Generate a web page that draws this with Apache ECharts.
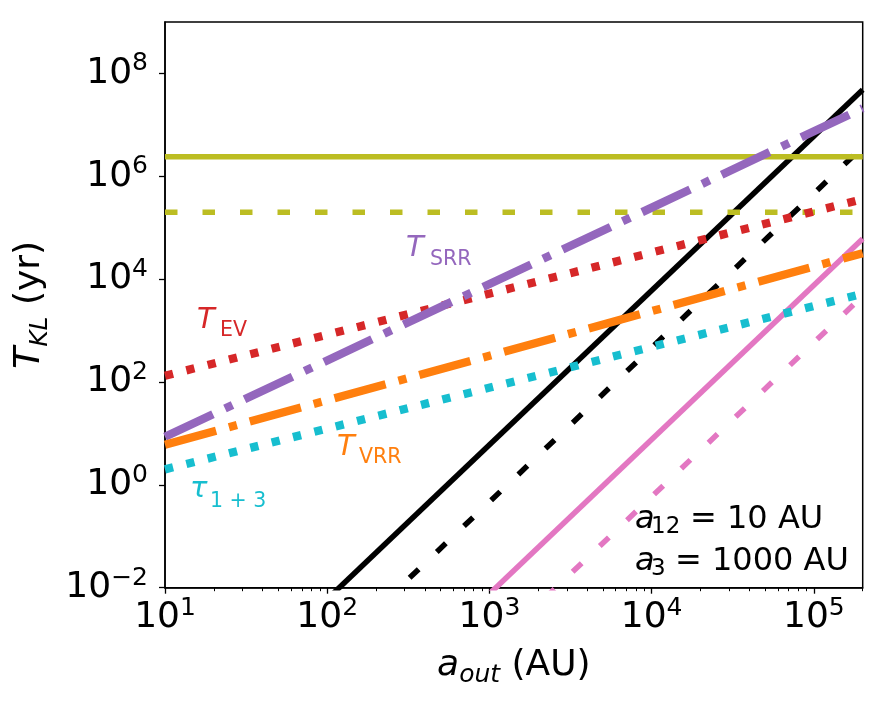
<!DOCTYPE html>
<html><head><meta charset="utf-8">
<script src="https://cdn.jsdelivr.net/npm/echarts@6/dist/echarts.min.js"></script>
<style>html,body{margin:0;padding:0;background:#fff}#c{width:885px;height:702px}</style>
</head><body><div id="c"></div>
<script>
// ---- data (real units, log-log plot) ----
const xRange = [10, 2e5];
const xEnds = [10, 2e5];                     // every curve is a straight line in log-log space
const xMajorTicks = [10, 100, 1000, 10000, 100000];
const xMinorTicks = [20,30,40,50,60,70,80,90,200,300,400,500,600,700,800,900,
  2000,3000,4000,5000,6000,7000,8000,9000,20000,30000,40000,50000,60000,70000,80000,90000,200000];
const yRange = [1e-2, 1e9];
const yTicks = [1e-2, 1, 1e2, 1e4, 1e6, 1e8];

const oliveSolid  = [2.4e6, 2.4e6];
const oliveDashed = [2.0e5, 2.0e5];
const blackSolid  = [6.0e-6, 4.8e7];
const blackDashed = [4.7e-7, 3.7e6];
const pinkSolid   = [7.6e-9, 6.1e4];
const pinkDashed  = [5.9e-10, 4.7e3];
const tEV         = [132, 3.6e5];
const tSRR        = [8.6, 2.1e7];
const tVRR        = [6.0, 3.2e4];
const tau13       = [2.0, 5.2e3];

// ---- helpers ----
const L = Math.log10;
const FONT = '"DejaVu Sans", sans-serif';
const exp = v => { const e = Math.round(v); return e < 0 ? '\u2212' + (-e) : String(e); };
const DASHED = [12.5, 25], DOTTED = [8.3, 13.7], DASHDOT = [53, 13.3, 8.3, 13.3];

function line(ys, color, width, type, extra) {
  return Object.assign({
    type: 'line', data: xEnds.map((x, i) => [L(x), L(ys[i])]),
    showSymbol: false, symbol: 'none', silent: true, animation: false, clip: true,
    lineStyle: { color, width, type, cap: 'butt', join: 'miter' }
  }, extra || {});
}

const tickRich = {
  b: { fontSize: 36, lineHeight: 44, fontFamily: FONT, color: '#000' },
  s: { fontSize: 25, lineHeight: 26, verticalAlign: 'top', fontFamily: FONT, color: '#000' }
};

function txt(text, x, y, size, italic, color) {
  return { type: 'text', x, y, silent: true,
    style: { text, font: (italic ? 'italic ' : '') + size + 'px ' + FONT, fill: color, align: 'left', verticalAlign: 'middle' } };
}

const chart = echarts.init(document.getElementById('c'), null, { renderer: 'canvas' });
chart.setOption({
  animation: false,
  backgroundColor: '#fff',
  grid: { left: 165, top: 22, width: 697.7, height: 565.7, show: true, borderColor: '#000', borderWidth: 1.5, backgroundColor: 'transparent' },
  xAxis: [{
    type: 'value', min: L(xRange[0]), max: L(xRange[1]), position: 'bottom',
    splitLine: { show: false },
    axisLine: { show: true, onZero: false, lineStyle: { color: '#000', width: 1.5 } },
    axisTick: { show: true, inside: false, length: 6, lineStyle: { color: '#000', width: 1.3 }, customValues: xMajorTicks.map(L) },
    axisLabel: { customValues: xMajorTicks.map(L), margin: 8, formatter: v => '{b|10}{s|' + exp(v) + '}', rich: tickRich },
    name: '{i|a}{si|out}{n| (AU)}', nameLocation: 'middle', nameGap: 54.5,
    nameTextStyle: { rich: {
      i: { fontSize: 36, lineHeight: 46, fontStyle: 'italic', fontFamily: FONT, color: '#000' },
      si: { fontSize: 25, lineHeight: 24.6, verticalAlign: 'bottom', fontStyle: 'italic', fontFamily: FONT, color: '#000' },
      n: { fontSize: 36, lineHeight: 46, fontFamily: FONT, color: '#000' } } }
  }, {
    type: 'value', min: L(xRange[0]), max: L(xRange[1]), position: 'bottom',
    splitLine: { show: false }, axisLine: { show: false, onZero: false },
    axisTick: { show: true, inside: false, length: 3.5, lineStyle: { color: '#000', width: 1 }, customValues: xMinorTicks.map(L) },
    axisLabel: { show: false }
  }],
  yAxis: [{
    type: 'value', min: L(yRange[0]), max: L(yRange[1]), interval: 2, position: 'left',
    splitLine: { show: false },
    axisLine: { show: true, onZero: false, lineStyle: { color: '#000', width: 1.5 } },
    axisTick: { show: true, inside: false, length: 6, lineStyle: { color: '#000', width: 1.3 }, customValues: yTicks.map(L) },
    axisLabel: { customValues: yTicks.map(L), margin: 17, formatter: v => '{b|10}{s|' + exp(v) + '}', rich: tickRich },
    name: '{i|T}{si|KL}{n| (yr)}', nameLocation: 'middle', nameGap: 112, nameRotate: 90,
    nameTextStyle: { rich: {
      i: { fontSize: 36, lineHeight: 46, fontStyle: 'italic', fontFamily: FONT, color: '#000' },
      si: { fontSize: 25, lineHeight: 23, verticalAlign: 'bottom', fontStyle: 'italic', fontFamily: FONT, color: '#000' },
      n: { fontSize: 36, lineHeight: 46, fontFamily: FONT, color: '#000' } } }
  }],
  series: [
    line(blackSolid, '#000000', 5.5, 'solid'),
    line(blackDashed, '#000000', 5.5, DASHED),
    line(pinkSolid, '#e377c2', 5.5, 'solid'),
    line(pinkDashed, '#e377c2', 5.5, DASHED),
    line(oliveSolid, '#bcbd22', 5.5, 'solid'),
    line(oliveDashed, '#bcbd22', 5.5, DASHED),
    line(tEV, '#d62728', 8.3, DOTTED),
    line(tSRR, '#9467bd', 8.3, DASHDOT),
    line(tVRR, '#ff7f0e', 8.3, DASHDOT),
    line(tau13, '#17becf', 8.3, DOTTED)
  ],
  graphic: [
    txt('T', 406, 248.5, 29, true, '#9467bd'),
    txt('SRR', 430, 260, 20.5, false, '#9467bd'),
    txt('T', 197, 320.5, 29, true, '#d62728'),
    txt('EV', 220, 331, 20.5, false, '#d62728'),
    txt('T', 337, 447.5, 29, true, '#ff7f0e'),
    txt('VRR', 359, 457.5, 20.5, false, '#ff7f0e'),
    txt('\u03c4', 190, 489, 29, true, '#17becf'),
    txt('1 + 3', 210, 501.3, 20.5, false, '#17becf'),
    txt('a', 635, 519.7, 32, true, '#000'),
    txt('12', 651, 527, 23, false, '#000'),
    txt('= 10 AU', 690, 519.7, 32, false, '#000'),
    txt('a', 635, 561.3, 32, true, '#000'),
    txt('3', 651, 568.6, 23, false, '#000'),
    txt('= 1000 AU', 675, 561.3, 32, false, '#000')
  ]
});
</script></body></html>
